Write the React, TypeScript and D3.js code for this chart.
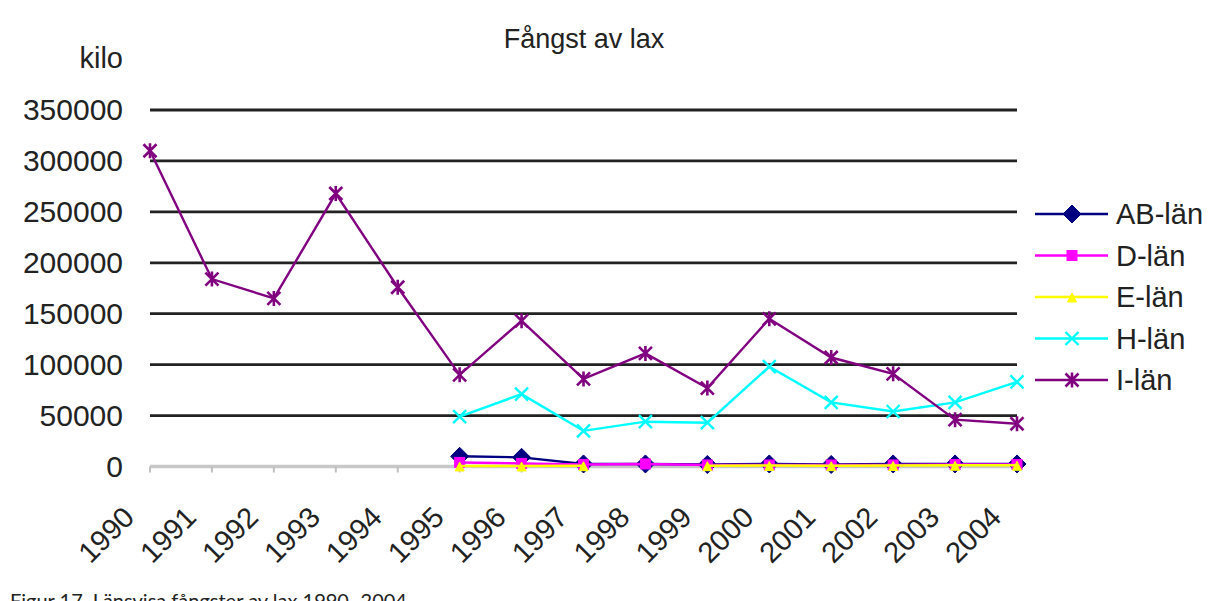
import React from "react";
import * as d3 from "d3";

const years = ["1990","1991","1992","1993","1994","1995","1996","1997","1998","1999","2000","2001","2002","2003","2004"];
const abLan = [null,null,null,null,null,10000,9000,2500,2500,2000,2500,2000,2500,2500,2500];
const dLan = [null,null,null,null,null,4000,3000,2000,2500,1500,1500,1500,1500,2000,2000];
const eLan = [null,null,null,null,null,500,500,800,null,800,1000,800,1000,1200,1200];
const hLan = [null,null,null,null,null,49000,71000,35000,44000,43000,98000,63000,54000,63000,83000];
const iLan = [310000,184000,165000,268000,176000,90000,143000,86000,111000,77000,145000,107000,91000,46000,42000];
const yTicks = [0,50000,100000,150000,200000,250000,300000,350000];
const seriesNames = ["AB-län","D-län","E-län","H-län","I-län"];
const seriesColors = ["#000080","#ff00ff","#ffff00","#00ffff","#800080"];
const seriesMarkers = ["diamond","square","triangle","x","star"];

const W = 1215, H = 601;
const FONT = "Liberation Sans, Arial, sans-serif";

function Marker({ type, x, y, color }: { type: string; x: number; y: number; color: string }) {
  if (type === "diamond") {
    const s = 9;
    return <path d={`M${x},${y - s}L${x + s},${y}L${x},${y + s}L${x - s},${y}Z`} fill={color} stroke={color} />;
  }
  if (type === "square") {
    return <rect x={x - 5} y={y - 5} width={10} height={10} fill={color} stroke={color} />;
  }
  if (type === "triangle") {
    return <path d={`M${x},${y - 4}L${x + 4.5},${y + 5}L${x - 4.5},${y + 5}Z`} fill={color} stroke={color} />;
  }
  if (type === "x") {
    const s = 6.5;
    return <path d={`M${x - s},${y - s}L${x + s},${y + s}M${x - s},${y + s}L${x + s},${y - s}`} stroke={color} strokeWidth={2.4} fill="none" />;
  }
  const s = 6.5;
  return <path d={`M${x - s},${y - s}L${x + s},${y + s}M${x - s},${y + s}L${x + s},${y - s}M${x},${y - s - 1}L${x},${y + s + 1}`} stroke={color} strokeWidth={2.6} fill="none" />;
}

export default function App() {
  const x = d3.scalePoint<string>().domain(years).range([150, 1017]);
  const y = d3.scaleLinear().domain([0, 350000]).range([466.5, 110]);
  const data = [abLan, dLan, eLan, hLan, iLan];
  const line = d3.line<number | null>()
    .defined((d) => d !== null)
    .x((_, i) => x(years[i]) as number)
    .y((d) => y(d as number));

  return (
    <svg width={W} height={H} style={{ position: "absolute", left: 0, top: 0, background: "#fff" }} fontFamily={FONT}>
      <rect x={0} y={0} width={W} height={H} fill="#fff" />
      <text x={584} y={48} textAnchor="middle" fontSize={27} fill="#222">Fångst av lax</text>
      <text x={123} y={68} textAnchor="end" fontSize={29} fill="#222">kilo</text>
      {yTicks.map((t) => (
        <g key={t}>
          {t > 0 && <line x1={150} x2={1017} y1={y(t)} y2={y(t)} stroke="#222" strokeWidth={2.8} />}
          <text x={123} y={y(t) + 10} textAnchor="end" fontSize={30} fill="#222">{t}</text>
        </g>
      ))}
      <line x1={150} x2={1017} y1={y(0)} y2={y(0)} stroke="#c8c8c8" strokeWidth={3.5} />
      {years.map((yr) => (
        <g key={yr}>
          <line x1={x(yr)} x2={x(yr)} y1={y(0)} y2={y(0) + 6} stroke="#c0c0c0" strokeWidth={2} />
          <text transform={`translate(${(x(yr) as number) - 14},519) rotate(-45)`} textAnchor="end" fontSize={29} fill="#222">{yr}</text>
        </g>
      ))}
      {data.map((s, si) => (
        <g key={si}>
          <path d={line(s) || ""} fill="none" stroke={seriesColors[si]} strokeWidth={2.4} />
          {s.map((v, i) => v === null ? null : (
            <Marker key={i} type={seriesMarkers[si]} x={x(years[i]) as number} y={y(v)} color={seriesColors[si]} />
          ))}
        </g>
      ))}
      {seriesNames.map((n, si) => {
        const ly = 214 + si * 41.5;
        return (
          <g key={n}>
            <line x1={1035} x2={1108} y1={ly} y2={ly} stroke={seriesColors[si]} strokeWidth={2.4} />
            <Marker type={seriesMarkers[si]} x={1072} y={ly} color={seriesColors[si]} />
            <text x={1116} y={ly + 10} fontSize={29} fill="#222">{n}</text>
          </g>
        );
      })}
      <text x={10} y={608} fontSize={20} fontFamily="Lato, sans-serif" fill="#222">Figur 17. Länsvisa fångster av lax 1990–2004</text>
    </svg>
  );
}
